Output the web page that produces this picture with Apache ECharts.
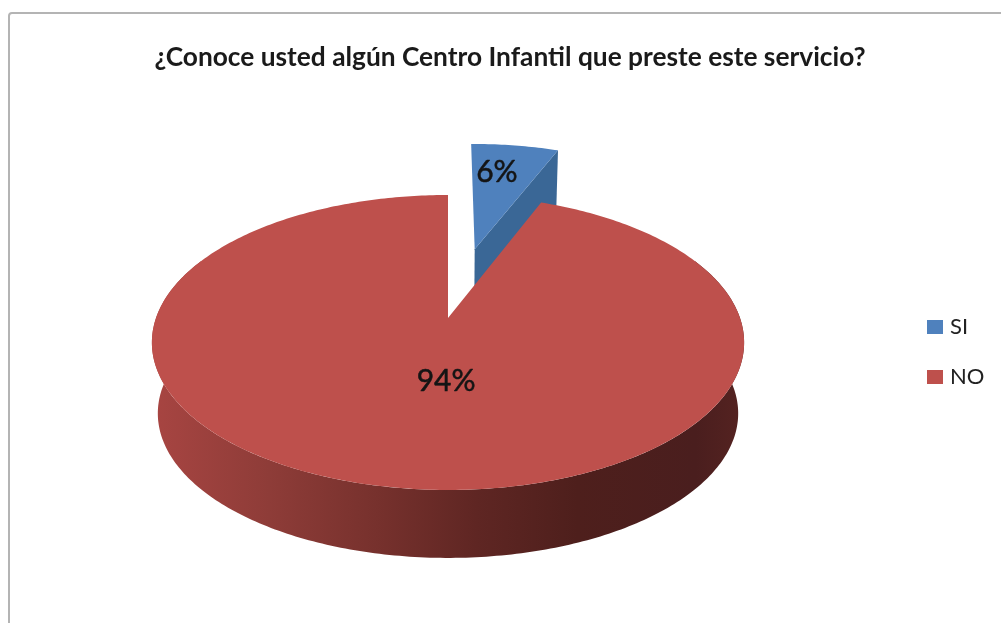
<!DOCTYPE html>
<html>
<head>
<meta charset="utf-8">
<title>Centro Infantil</title>
<style>html,body{margin:0;padding:0;background:#fff}#chart{width:1001px;height:623px}</style>
<script src="https://cdn.jsdelivr.net/npm/echarts@6/dist/echarts.min.js"></script>
</head>
<body>
<div id="chart"></div>
<script>
// Survey answers, in percent
const categories = ['SI', 'NO'];
const shares = [6, 94];
const titleText = '¿Conoce usted algún Centro Infantil que preste este servicio?';

const topColors = ['#4f81bd', '#be504c'];
const FONT = 'Lato, "Noto Sans", sans-serif';

// Perspective model of the disc: u runs right, v runs away from the viewer,
// both in units of the disc radius.
const VIEW = {cx: 448, cy: 318, ax: 292, ay: 143.4, p: 0.166, base: 71.4, shrink: 0.98};

function project(u, v, lower) {
  const w = 1 + VIEW.p * v;
  const s = lower ? VIEW.shrink : 1;
  return [
    VIEW.cx + s * VIEW.ax * u / w,
    VIEW.cy + (lower ? VIEW.base : 0) - s * VIEW.ay * v / w
  ];
}

function rimPoint(angle, offset, lower) {
  return project(Math.sin(angle) + offset[0], Math.cos(angle) + offset[1], lower);
}

function arcAngles(from, to) {
  const steps = Math.max(2, Math.ceil(Math.abs(to - from) / 0.015));
  const list = [];
  for (let i = 0; i <= steps; i++) list.push(from + (to - from) * i / steps);
  return list;
}

// Shaded rim running from lit on the left to dark on the right
const rimFill = {
  type: 'linear', x: 151, y: 0, x2: 743, y2: 0, global: true,
  colorStops: [
    {offset: 0, color: '#a84542'},
    {offset: 0.2, color: '#8e3c38'},
    {offset: 0.38, color: '#77312d'},
    {offset: 0.55, color: '#5f2623'},
    {offset: 0.72, color: '#4e1f1c'},
    {offset: 0.92, color: '#4a1e1e'},
    {offset: 1, color: '#552321'}
  ]
};

const total = shares.reduce((a, b) => a + b, 0);
const explode = [0.53, 0];
// Label anchors on the disc plane plus a small pixel nudge
const labelSpots = [
  {radial: 1.2, dx: -6, dy: -4},
  {radial: 0.44, dx: 24, dy: -3}
];

function renderSlice(params, api) {
  const idx = params.seriesIndex;
  const value = api.value(0);
  const before = shares.slice(0, idx).reduce((a, b) => a + b, 0);
  const start = before / total * Math.PI * 2;
  const end = (before + value) / total * Math.PI * 2;
  const mid = (start + end) / 2;
  const offset = [Math.sin(mid) * explode[idx], Math.cos(mid) * explode[idx]];
  const centreTop = project(offset[0], offset[1], false);
  const centreLow = project(offset[0], offset[1], true);
  const children = [];

  if (idx === 0) {
    // Exposed cut face of the pulled-out wedge
    children.push({
      type: 'polygon',
      shape: {points: [centreTop, rimPoint(end, offset, false), rimPoint(end, offset, true), centreLow]},
      style: {fill: '#3a6796'}
    });
  } else {
    // Front wall of the disc
    const front = arcAngles(Math.PI * 0.36, Math.PI * 1.64);
    const upper = front.map(a => rimPoint(a, offset, false));
    const lower = front.map(a => rimPoint(a, offset, true)).reverse();
    children.push({type: 'polygon', shape: {points: upper.concat(lower)}, style: {fill: rimFill}});
  }

  const face = [centreTop].concat(arcAngles(start, end).map(a => rimPoint(a, offset, false)));
  children.push({type: 'polygon', shape: {points: face}, style: {fill: topColors[idx]}});

  const spot = labelSpots[idx];
  const at = project(Math.sin(mid) * spot.radial, Math.cos(mid) * spot.radial, false);
  children.push({
    type: 'text',
    z2: 10,
    style: {
      x: at[0] + spot.dx,
      y: at[1] + spot.dy,
      text: value + '%',
      fill: '#141414',
      stroke: '#141414',
      lineWidth: 0.5,
      font: '400 30px ' + FONT,
      align: 'center',
      verticalAlign: 'middle'
    }
  });
  return {type: 'group', children};
}

const chart = echarts.init(document.getElementById('chart'), null, {renderer: 'canvas'});
chart.setOption({
  animation: false,
  backgroundColor: '#ffffff',
  title: {
    text: titleText,
    left: 505,
    textAlign: 'center',
    top: 40,
    textStyle: {fontFamily: FONT, fontSize: 26.3, fontWeight: 'bold', color: '#1a1a1a'}
  },
  legend: {
    orient: 'vertical',
    left: 922,
    top: 311,
    itemWidth: 16,
    itemHeight: 14,
    itemGap: 28,
    icon: 'rect',
    data: categories,
    textStyle: {fontFamily: FONT, fontSize: 22, color: '#222', padding: [0, 0, 0, 2]}
  },
  graphic: [{
    type: 'rect',
    silent: true,
    z: -1,
    shape: {x: 9, y: 13, width: 1040, height: 700, r: 3},
    style: {fill: '#ffffff', stroke: '#b4b4b4', lineWidth: 2}
  }],
  series: categories.map((name, i) => ({
    type: 'custom',
    name,
    coordinateSystem: 'none',
    itemStyle: {color: topColors[i]},
    renderItem: renderSlice,
    data: [[shares[i]]]
  }))
});
</script>
</body>
</html>
